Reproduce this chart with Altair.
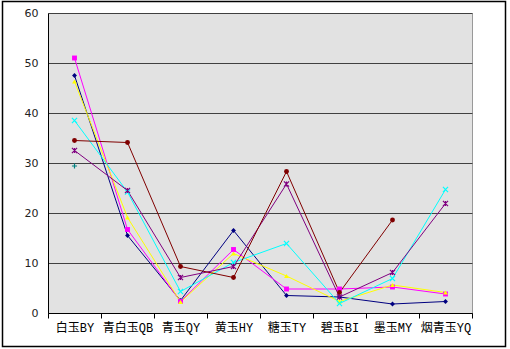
import altair as alt
import pandas as pd

categories = ["白玉BY", "青白玉QB", "青玉QY", "黄玉HY", "糖玉TY", "碧玉BI", "墨玉MY", "烟青玉YQ"]

s_navy    = [47.5, 15.5, 2.5, 16.5, 3.5, 3.2, 1.8, 2.3]
s_magenta = [51.0, 16.7, 2.3, 12.7, 4.8, 4.8, 5.2, 3.8]
s_yellow  = [46.3, 19.1, 2.2, 11.9, 7.4, 2.3, 5.6, 4.1]
s_cyan    = [38.5, 24.2, 4.3, 10.1, 13.9, 1.9, 6.9, 24.7]
s_purple  = [32.5, 24.5, 7.1, 9.3, 25.8, 3.2, 8.1, 21.9]
s_darkred = [34.5, 34.1, 9.3, 7.1, 28.3, 4.1, 18.6, None]
s_teal    = [29.4, None, None, None, None, None, None, None]

series_names = ["navy", "magenta", "yellow", "cyan", "purple", "darkred", "teal"]
series_vals = [s_navy, s_magenta, s_yellow, s_cyan, s_purple, s_darkred, s_teal]
colors = ["#000080", "#FF00FF", "#FFFF00", "#00FFFF", "#800080", "#800000", "#008080"]
shapes = ["diamond", "square", "triangle-up",
          "M-1,-1L1,1M-1,1L1,-1",
          "M-1,-1L1,1M-1,1L1,-1M0,-1L0,1",
          "circle",
          "M-1,0L1,0M0,-1L0,1"]
filled_series = ["navy", "magenta", "yellow", "darkred"]

rows = []
for name, vals in zip(series_names, series_vals):
    for c, v in zip(categories, vals):
        if v is not None:
            rows.append({"series": name, "cat": c, "value": v})
df = pd.DataFrame(rows)

x_enc = alt.X("cat:N", sort=categories, bandPosition=0.5,
              scale=alt.Scale(type="band", domain=categories, paddingInner=0, paddingOuter=0),
              axis=alt.Axis(title=None, labelAngle=0, tickBand="extent", ticks=True, tickSize=5,
                            tickColor="#000000", domainColor="#000000", labelPadding=4,
                            labelFont="Liberation Mono, Noto Sans CJK SC", labelFontSize=12,
                            labelColor="#000000"))
y_enc = alt.Y("value:Q", scale=alt.Scale(domain=[0, 60], nice=False),
              axis=alt.Axis(title=None, values=[0, 10, 20, 30, 40, 50, 60], grid=True,
                            gridColor="#404040", gridWidth=1, tickSize=0, domainColor="#000000",
                            labelPadding=10, labelFont="DejaVu Sans", labelFontSize=11,
                            labelColor="#222222"))
color_enc = alt.Color("series:N", scale=alt.Scale(domain=series_names, range=colors), legend=None)
shape_enc = alt.Shape("series:N", scale=alt.Scale(domain=series_names, range=shapes), legend=None)

base = alt.Chart(df)
lines = base.mark_line(strokeWidth=1).encode(x=x_enc, y=y_enc, color=color_enc, detail="series:N")
pts_filled = base.transform_filter(
    alt.FieldOneOfPredicate(field="series", oneOf=filled_series)
).mark_point(filled=True, size=24, opacity=1).encode(x=x_enc, y=y_enc, color=color_enc, shape=shape_enc)
pts_open = base.transform_filter(
    ~alt.FieldOneOfPredicate(field="series", oneOf=filled_series)
).mark_point(filled=False, size=26, strokeWidth=1.2, opacity=1).encode(x=x_enc, y=y_enc, color=color_enc, shape=shape_enc)

frame = alt.Chart(pd.DataFrame({"a": [0]})).mark_rect(
    fill=None, stroke="#000000", strokeWidth=1.5
).encode(x=alt.value(-45.5), x2=alt.value(457.5), y=alt.value(-11.5), y2=alt.value(333.5))

chart = alt.layer(lines, pts_filled, pts_open, frame).properties(
    width=424, height=300,
    autosize=alt.AutoSizeParams(type="none"),
    padding={"left": 48, "top": 13, "right": 38, "bottom": 36},
    background="#FFFFFF",
).configure_view(fill="#E2E2E2", stroke="#999999", strokeWidth=1)

chart.save("out.html", embed_options={"renderer": "svg", "actions": False})
